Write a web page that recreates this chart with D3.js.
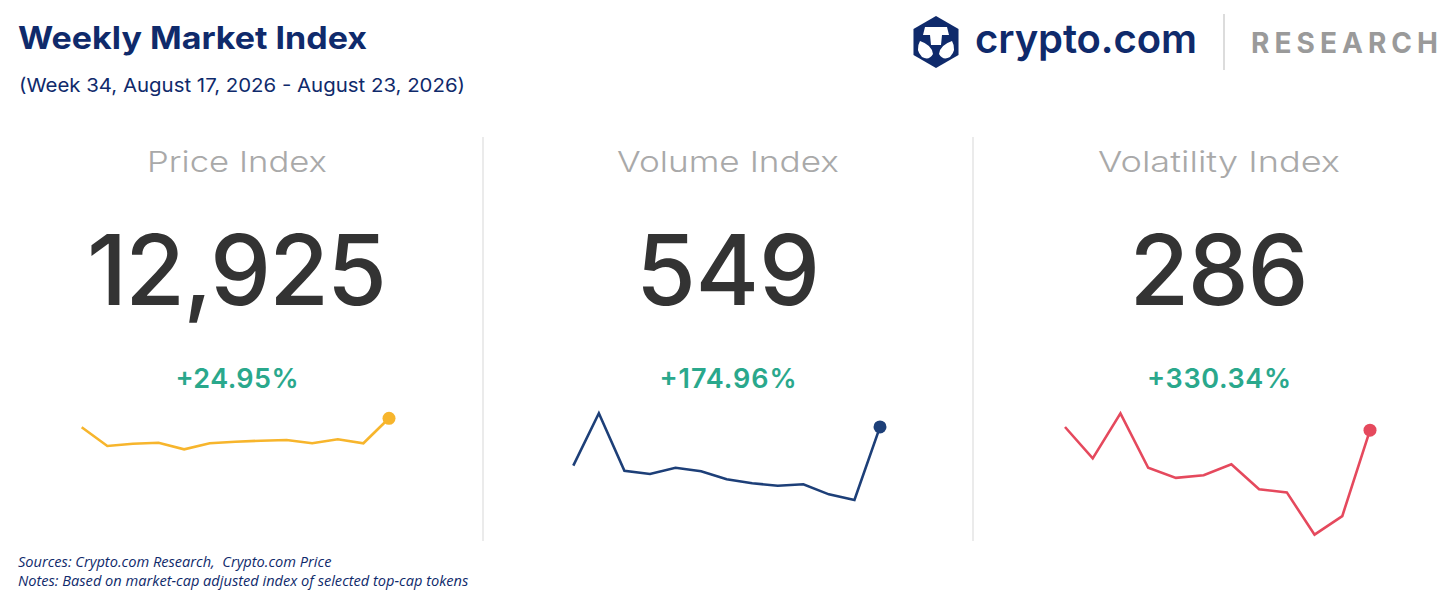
<!DOCTYPE html>
<html>
<head>
<meta charset="utf-8">
<script src="https://cdn.jsdelivr.net/npm/d3@7"></script>
<style>
  html, body { margin: 0; padding: 0; background: #fff; }
  svg { display: block; }
  text { white-space: pre; }
</style>
</head>
<body>
<div id="container"></div>
<script>
// chart data
const panelTitles = ["Price Index", "Volume Index", "Volatility Index"]
const changes = [24.95, 174.96, 330.34]

const priceSeries = [11995, 10064, 10301, 10404, 9723, 10342, 10508, 10611, 10683, 10342, 10756, 10344, 12925]
const volumeSeries = [364, 614, 340, 324, 354, 337, 299, 280, 268, 275, 227, 200, 549]
const volatilitySeries = [294, 214, 329, 190, 164, 171, 199, 135, 127, 19, 66.5, 286]

const title = "Weekly Market Index"
const subtitle = "(Week 34, August 17, 2026 - August 23, 2026)"
const notes = [
  "Sources: Crypto.com Research,  Crypto.com Price",
  "Notes: Based on market-cap adjusted index of selected top-cap tokens"
]

const w = 1456
const h = 607
const navy = "#0f2a6b"
const fontMain = "Inter, 'Open Sans', sans-serif"

const svg = d3.select("#container")
  .append("svg")
  .attr("width", w)
  .attr("height", h)

// header
svg.append("text")
  .attr("x", 18).attr("y", 49)
  .attr("font-family", fontMain)
  .attr("font-weight", 700)
  .attr("font-size", 31)
  .attr("textLength", 349)
  .attr("lengthAdjust", "spacingAndGlyphs")
  .attr("fill", navy)
  .text(title)

svg.append("text")
  .attr("x", 19).attr("y", 92)
  .attr("font-family", fontMain)
  .attr("font-size", 19)
  .attr("textLength", 446)
  .attr("lengthAdjust", "spacingAndGlyphs")
  .attr("fill", navy)
  .text(subtitle)

// logo
const logo = svg.append("g").attr("transform", "translate(936,42)")
const hex = d3.range(6).map(i => {
  const a = Math.PI / 3 * i - Math.PI / 2
  return [26 * Math.cos(a), 26 * Math.sin(a)]
})
logo.append("path")
  .attr("d", "M" + hex.join("L") + "Z")
  .attr("fill", navy)
logo.append("path")
  .attr("d", "M-11,-15 L11,-15 L13,-7 L6,-7 L5,3 L-5,3 L-6,-7 L-13,-7 Z")
  .attr("fill", "#fff")
logo.append("path")
  .attr("d", "M-16,-1 Q-21,8 -14,15 Q-7,19 -3,12 Q-4,3 -16,-1 Z M16,-1 Q21,8 14,15 Q7,19 3,12 Q4,3 16,-1 Z")
  .attr("fill", "#fff")

svg.append("text")
  .attr("x", 975).attr("y", 53)
  .attr("font-family", fontMain)
  .attr("font-weight", 600)
  .attr("font-size", 40)
  .attr("textLength", 222)
  .attr("fill", navy)
  .text("crypto.com")

svg.append("line")
  .attr("x1", 1224).attr("x2", 1224)
  .attr("y1", 14).attr("y2", 70)
  .attr("stroke", "#d0d0d0").attr("stroke-width", 1.5)

svg.append("text")
  .attr("x", 1251).attr("y", 53)
  .attr("font-family", fontMain)
  .attr("font-weight", 700)
  .attr("font-size", 28)
  .attr("textLength", 187)
  .attr("fill", "#9a9a9a")
  .text("RESEARCH")

// panels (layout only: centres, text widths, sparkline boxes)
const panels = [
  { cx: 237, series: priceSeries, color: "#f7b52c", tw: 180, nw: 300, pw: 123, x0: 81.7, x1: 389, yTop: 418.3, yBottom: 449.3 },
  { cx: 728, series: volumeSeries, color: "#1d3f78", tw: 222, nw: 184, pw: 137, x0: 573.3, x1: 880, yTop: 413.3, yBottom: 500 },
  { cx: 1219, series: volatilitySeries, color: "#e5495d", tw: 242, nw: 179, pw: 144, x0: 1065, x1: 1370, yTop: 413.3, yBottom: 534.7 }
]

// dividers
;[483, 973].forEach(x => {
  svg.append("line")
    .attr("x1", x).attr("x2", x)
    .attr("y1", 137).attr("y2", 541)
    .attr("stroke", "#dedede").attr("stroke-width", 1.2)
})

panels.forEach((p, i) => {
  const g = svg.append("g")

  g.append("text")
    .attr("x", p.cx).attr("y", 172)
    .attr("text-anchor", "middle")
    .attr("font-family", fontMain)
    .attr("font-weight", 300)
    .attr("font-size", 29)
    .attr("textLength", p.tw)
    .attr("lengthAdjust", "spacingAndGlyphs")
    .attr("fill", "#a9a9a9")
    .text(panelTitles[i])

  const last = p.series[p.series.length - 1]
  g.append("text")
    .attr("x", p.cx).attr("y", 305)
    .attr("text-anchor", "middle")
    .attr("font-family", fontMain)
    .attr("font-weight", 500)
    .attr("font-size", 97)
    .attr("textLength", p.nw)
    .attr("fill", "#333")
    .text(d3.format(",")(Math.round(last)))

  g.append("text")
    .attr("x", p.cx).attr("y", 388)
    .attr("text-anchor", "middle")
    .attr("font-family", fontMain)
    .attr("font-weight", 600)
    .attr("font-size", 27)
    .attr("textLength", p.pw)
    .attr("fill", "#2aa88c")
    .text("+" + d3.format(".2f")(changes[i]) + "%")

  const x = d3.scaleLinear()
    .domain([0, p.series.length - 1])
    .range([p.x0, p.x1])
  const y = d3.scaleLinear()
    .domain(d3.extent(p.series))
    .range([p.yBottom, p.yTop])

  const line = d3.line()
    .x((d, j) => x(j))
    .y(d => y(d))

  g.append("path")
    .datum(p.series)
    .attr("d", line)
    .attr("fill", "none")
    .attr("stroke", p.color)
    .attr("stroke-width", 2.6)

  g.append("circle")
    .attr("cx", x(p.series.length - 1))
    .attr("cy", y(last))
    .attr("r", 6.5)
    .attr("fill", p.color)
})

// footer notes
svg.selectAll("text.note")
  .data(notes)
  .enter()
  .append("text")
  .attr("class", "note")
  .attr("x", 18)
  .attr("y", (d, i) => 567 + i * 19)
  .attr("font-family", "'Open Sans', sans-serif")
  .attr("font-style", "italic")
  .attr("font-size", 14.6)
  .attr("fill", navy)
  .text(d => d)
</script>
</body>
</html>
